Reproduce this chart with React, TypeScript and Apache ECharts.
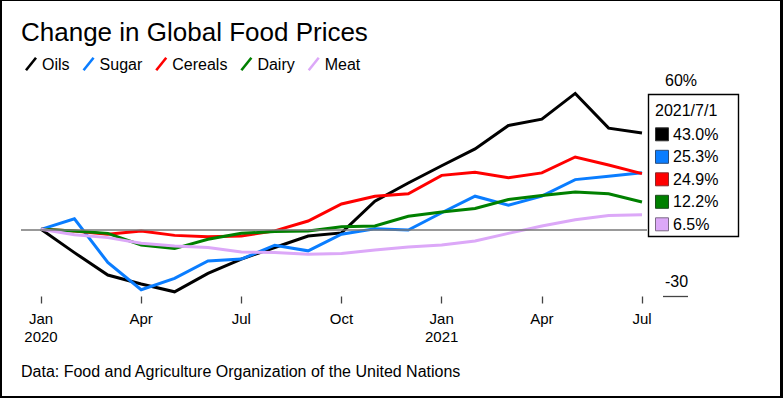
import React, { useEffect, useRef } from "react";
import * as echarts from "echarts";

// Monthly index 0 = Jan 2020 ... 18 = Jul 2021
const months = [
  "2020-01", "2020-02", "2020-03", "2020-04", "2020-05", "2020-06", "2020-07",
  "2020-08", "2020-09", "2020-10", "2020-11", "2020-12", "2021-01", "2021-02",
  "2021-03", "2021-04", "2021-05", "2021-06", "2021-07",
];

const seriesNames = ["Oils", "Sugar", "Cereals", "Dairy", "Meat"];
const seriesColors = ["#000000", "#0a7dff", "#ff0000", "#008000", "#dca8f8"];
const seriesBorders = ["#333333", "#2b4d7a", "#8a2b2b", "#1f4a1f", "#7c6a86"];

const oils = [0, -10.4, -20.4, -24.4, -27.9, -19.7, -13.3, -8.1, -3.0, -1.6, 12.6, 20.7, 28.4, 35.9, 46.4, 49.2, 60.7, 45.2, 43.0];
const sugar = [0, 4.7, -14.8, -27.0, -21.9, -14.1, -13.3, -7.1, -9.6, -2.2, 0.3, -0.3, 7.4, 14.8, 10.8, 14.8, 22.2, 23.7, 25.3];
const cereals = [0, -0.7, -2.2, -0.7, -2.7, -3.3, -3.0, -0.7, 3.7, 11.3, 14.8, 15.9, 24.1, 25.5, 23.1, 25.2, 32.3, 28.7, 24.9];
const dairy = [0, -0.7, -1.8, -7.0, -8.6, -4.4, -1.8, -1.0, -0.7, 1.2, 1.5, 5.8, 7.7, 9.3, 13.3, 15.1, 16.7, 15.9, 12.2];
const meat = [0, -2.4, -3.7, -6.2, -7.4, -8.1, -10.1, -10.4, -11.1, -10.8, -9.2, -7.9, -7.0, -5.2, -1.8, 1.5, 4.3, 6.2, 6.5];

const xTickValues = [0, 3, 6, 9, 12, 15, 18];
const xTickLabels = ["Jan\n2020", "Apr", "Jul", "Oct", "Jan\n2021", "Apr", "Jul"];
const yTickValues = [-30, 60];
const yTickLabels = ["-30", "60%"];

const tooltipDate = "2021/7/1";
const titleText = "Change in Global Food Prices";
const sourceText = "Data: Food and Agriculture Organization of the United Nations";

const FONT = "'Liberation Sans', Arial, Helvetica, sans-serif";

export default function App() {
  const ref = useRef<HTMLDivElement>(null);

  useEffect(() => {
    document.body.style.margin = "0";
    if (!ref.current) return;
    const chart = echarts.init(ref.current, undefined, { renderer: "svg" });
    const allData = [oils, sugar, cereals, dairy, meat];

    const lineSeries = seriesNames.map((name, k) => ({
      name,
      type: "line",
      data: allData[k].map((v, i) => [i, v]),
      showSymbol: false,
      symbol: "none",
      clip: false,
      z: 3,
      lineStyle: { width: 3, color: seriesColors[k], cap: "butt", join: "miter" },
      itemStyle: { color: seriesColors[k] },
    }));

    const rowTop = 134.3;
    const rowGap = 22.5;
    const boxRows: any[] = [];
    seriesNames.forEach((name, k) => {
      const cy = rowTop + rowGap * k;
      const last = allData[k][allData[k].length - 1];
      boxRows.push({
        type: "rect",
        shape: { x: 655.5, y: cy - 6.5, width: 13, height: 13 },
        style: { fill: seriesColors[k], stroke: seriesBorders[k], lineWidth: 1 },
        z: 101,
      });
      boxRows.push({
        type: "text",
        x: 673,
        y: cy,
        style: {
          text: `${last.toFixed(1)}%`,
          font: `16px ${FONT}`,
          fill: "#000",
          verticalAlign: "middle",
          align: "left",
        },
        z: 101,
      });
    });

    chart.setOption({
      animation: false,
      backgroundColor: "#fff",
      title: {
        text: titleText,
        left: 16,
        top: 14,
        textStyle: { fontFamily: FONT, fontSize: 26, fontWeight: "normal", color: "#000" },
      },
      legend: {
        data: seriesNames,
        left: 20,
        top: 51,
        itemWidth: 12,
        itemHeight: 14,
        itemGap: 13,
        icon: "path://M0,12.6 L10,0 L12,1.4 L2,14 Z",
        textStyle: { fontFamily: FONT, fontSize: 16, color: "#000" },
        selectedMode: false,
      },
      grid: { left: 21, right: 136, top: 95, bottom: 101.5, containLabel: false },
      xAxis: {
        type: "value",
        min: -0.6,
        max: 18.15,
        axisLine: { show: false, onZero: false },
        splitLine: { show: false },
        axisTick: {
          show: true,
          customValues: xTickValues,
          length: 7,
          lineStyle: { color: "#444", width: 1.3 },
        },
        axisLabel: {
          customValues: xTickValues,
          margin: 13,
          fontFamily: FONT,
          fontSize: 15,
          lineHeight: 18,
          color: "#000",
          formatter: (v: number) => xTickLabels[xTickValues.indexOf(v)] ?? "",
        },
      },
      yAxis: {
        type: "value",
        position: "right",
        min: -30,
        max: 60,
        offset: 16,
        axisLine: { show: false, onZero: false },
        splitLine: { show: false },
        axisTick: {
          show: true,
          customValues: yTickValues,
          length: 25,
          inside: false,
          lineStyle: { color: "#444", width: 1.3 },
        },
        axisLabel: {
          customValues: yTickValues,
          margin: 2,
          align: "left",
          verticalAlign: "bottom",
          padding: [0, 0, 7, 0],
          fontFamily: FONT,
          fontSize: 16,
          color: "#000",
          formatter: (v: number) => yTickLabels[yTickValues.indexOf(v)] ?? "",
        },
      },
      series: [
        {
          name: "zero",
          type: "line",
          data: [],
          z: 1,
          markLine: {
            silent: true,
            symbol: ["none", "none"],
            label: { show: false },
            lineStyle: { color: "#777", width: 1.5, type: "solid" },
            data: [{ yAxis: 0 }],
          },
        },
        ...lineSeries,
      ],
      graphic: [
        {
          type: "rect",
          shape: { x: 648.5, y: 94.5, width: 90, height: 142 },
          style: { fill: "#fff", stroke: "#000", lineWidth: 1.4 },
          z: 100,
        },
        {
          type: "text",
          x: 655,
          y: 110.7,
          style: {
            text: tooltipDate,
            font: `16px ${FONT}`,
            fill: "#000",
            verticalAlign: "middle",
            align: "left",
          },
          z: 101,
        },
        ...boxRows,
        {
          type: "text",
          x: 21,
          y: 371,
          style: {
            text: sourceText,
            font: `16px ${FONT}`,
            fill: "#000",
            verticalAlign: "middle",
            align: "left",
          },
          z: 101,
        },
      ],
    });

    return () => chart.dispose();
  }, []);

  return (
    <div style={{ position: "relative", width: 783, height: 398 }}>
      <div ref={ref} style={{ width: 783, height: 398 }} />
      <div
        style={{
          position: "absolute",
          left: 0,
          top: 0,
          width: 783,
          height: 398,
          boxSizing: "border-box",
          borderTop: "1px solid #000",
          borderLeft: "2px solid #000",
          borderBottom: "2px solid #000",
          borderRight: "3px solid #000",
          pointerEvents: "none",
        }}
      />
    </div>
  );
}
